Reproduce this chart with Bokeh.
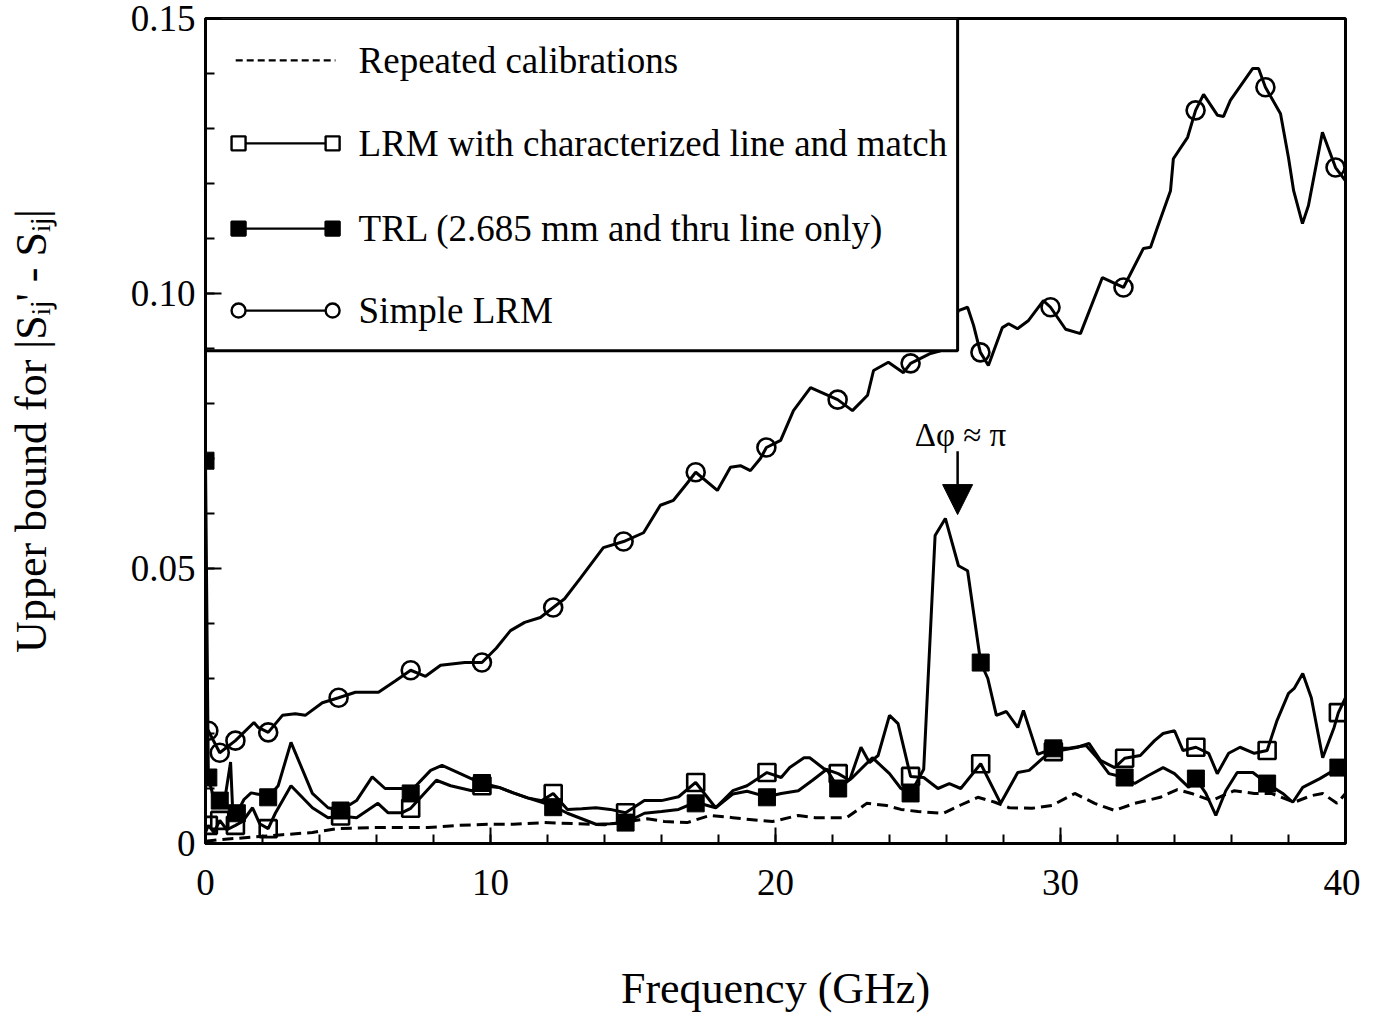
from bokeh.plotting import figure
from bokeh.models import Range1d, FixedTicker, Arrow, NormalHead, PrintfTickFormatter
from bokeh.embed import file_html
from bokeh.resources import INLINE
from bokeh.core.properties import value

FONT = "Liberation Serif"

# ---------------- data ----------------
# Simple LRM (open circles)
SIMPLE_X = [0, 0.1, 0.5, 1.05, 1.7, 1.85, 2.2, 2.7, 3.15, 3.5, 4.1, 4.67, 5.26, 6.07, 6.67, 7.2,
            7.72, 8.25, 9.1, 9.7, 10.2, 10.7, 11.2, 11.75, 12.2, 12.6, 13.15, 13.96, 14.67, 15.37,
            15.96, 16.42, 16.9, 17.2, 17.96, 18.42, 18.77, 19.12, 19.47, 19.68, 20.18, 20.63, 21.23,
            22.18, 22.7, 23.23, 23.44, 23.96, 24.49, 24.74, 25.44, 25.79, 26.42, 26.74, 26.95, 27.19,
            27.47, 27.96, 28.18, 28.49, 28.88, 29.4, 29.65, 30.18, 30.7, 31.47, 32.21, 32.91, 33.16,
            33.4, 33.86, 33.96, 34.46, 34.74, 35.02, 35.51, 35.72, 35.96, 36.74, 36.95, 37.19, 37.72,
            38.0, 38.18, 38.49, 38.7, 39.19, 39.65, 40.0]
SIMPLE_Y = [0.0209, 0.0205, 0.0165, 0.0187, 0.0220, 0.0211, 0.0202, 0.0233, 0.0236, 0.0233, 0.0256,
            0.0265, 0.0275, 0.0275, 0.0296, 0.0315, 0.0304, 0.0324, 0.0329, 0.0329, 0.0355, 0.0387,
            0.0402, 0.0411, 0.0429, 0.0445, 0.0482, 0.0538, 0.0549, 0.0565, 0.0615, 0.0624, 0.0655,
            0.0675, 0.0642, 0.0684, 0.0687, 0.0678, 0.0700, 0.0720, 0.0733, 0.0787, 0.0829, 0.0807,
            0.0787, 0.0815, 0.0860, 0.0875, 0.0856, 0.0873, 0.0891, 0.0896, 0.0969, 0.0975, 0.0942,
            0.0893, 0.0869, 0.0938, 0.0945, 0.0936, 0.0951, 0.0987, 0.0975, 0.0935, 0.0927, 0.1029,
            0.1011, 0.1082, 0.1084, 0.1120, 0.1187, 0.1245, 0.1284, 0.1333, 0.1362, 0.1324, 0.1322,
            0.1351, 0.1409, 0.1409, 0.1375, 0.1327, 0.1247, 0.1187, 0.1127, 0.1160, 0.1293, 0.1229,
            0.1205]
SIMPLE_MX = [0.1, 0.5, 1.05, 2.2, 4.67, 7.2, 9.7, 12.2, 14.67, 17.2, 19.68, 22.18, 24.74, 27.19,
             29.65, 32.21, 34.74, 37.19, 39.65]
SIMPLE_MY = [0.0205, 0.0165, 0.0187, 0.0202, 0.0265, 0.0315, 0.0329, 0.0429, 0.0549, 0.0675, 0.0720,
             0.0807, 0.0873, 0.0893, 0.0975, 0.1011, 0.1333, 0.1375, 0.1229]

# LRM with characterized line and match (open squares)
LRM_X = [0, 0.1, 0.3, 0.5, 0.75, 1.05, 1.3, 1.65, 1.9, 2.2, 2.45, 3.0, 3.75, 4.3, 4.74, 5.3, 6.05,
         6.4, 6.9, 7.2, 8.1, 8.6, 9.35, 9.7, 10.3, 10.8, 11.3, 11.8, 12.2, 12.7, 13.2, 13.7, 14.2,
         14.74, 15.4, 16.0, 16.6, 17.2, 17.9, 18.5, 19.0, 19.7, 20.2, 20.5, 21.0, 21.2, 21.7, 22.2,
         22.6, 23.0, 23.3, 23.6, 24.0, 24.3, 24.74, 25.2, 25.7, 26.1, 26.5, 27.2, 27.9, 28.5, 28.9,
         29.4, 29.75, 30.6, 31.0, 31.4, 31.9, 32.25, 32.8, 33.3, 33.6, 34.0, 34.3, 34.75, 35.2, 35.5,
         35.9, 36.3, 36.8, 37.25, 37.6, 38.0, 38.2, 38.5, 38.8, 39.2, 39.6, 39.75, 40.0]
LRM_Y = [0.0020, 0.0033, 0.0020, 0.0042, 0.0025, 0.0033, 0.0040, 0.0065, 0.0036, 0.0027, 0.0055,
         0.0105, 0.0065, 0.0047, 0.0050, 0.0047, 0.0073, 0.0056, 0.0056, 0.0064, 0.0115, 0.0105,
         0.0096, 0.0105, 0.0102, 0.0092, 0.0083, 0.0078, 0.0091, 0.0062, 0.0063, 0.0065, 0.0062,
         0.0056, 0.0078, 0.0078, 0.0085, 0.0111, 0.0065, 0.0096, 0.0105, 0.0129, 0.0120, 0.0138,
         0.0156, 0.0156, 0.0136, 0.0127, 0.0115, 0.0175, 0.0147, 0.0160, 0.0233, 0.0218, 0.0122,
         0.0120, 0.0100, 0.0109, 0.0100, 0.0145, 0.0073, 0.0129, 0.0133, 0.0156, 0.0167, 0.0175,
         0.0182, 0.0151, 0.0138, 0.0155, 0.0160, 0.0187, 0.0200, 0.0205, 0.0169, 0.0175, 0.0164,
         0.0127, 0.0164, 0.0175, 0.0164, 0.0169, 0.0224, 0.0273, 0.0282, 0.0309, 0.0265, 0.0156,
         0.0211, 0.0238, 0.0265]
LRM_MX = [0.1, 0.5, 1.05, 2.2, 4.74, 7.2, 9.7, 12.2, 14.74, 17.2, 19.7, 22.2, 24.74, 27.2, 29.75,
          32.25, 34.75, 37.25, 39.75]
LRM_MY = [0.0033, 0.0042, 0.0033, 0.0027, 0.0050, 0.0064, 0.0105, 0.0091, 0.0056, 0.0111, 0.0129,
          0.0127, 0.0122, 0.0145, 0.0167, 0.0155, 0.0175, 0.0169, 0.0238]

# TRL (2.685 mm and thru line only) (filled squares)
TRL_X = [0, 0.1, 0.3, 0.5, 0.7, 0.88, 0.95, 1.1, 1.35, 1.6, 1.9, 2.2, 2.55, 3.0, 3.75, 4.3, 4.74,
         5.3, 5.85, 6.3, 6.9, 7.2, 7.9, 8.3, 8.9, 9.4, 9.7, 10.3, 10.8, 11.3, 11.8, 12.2, 12.7, 13.2,
         13.7, 14.2, 14.74, 15.4, 16.0, 16.6, 17.2, 17.9, 18.5, 19.0, 19.7, 20.2, 20.8, 21.3, 21.8,
         22.2, 22.7, 23.4, 24.0, 24.4, 24.74, 25.2, 25.6, 25.96, 26.42, 26.74, 27.2, 27.45, 27.75,
         28.1, 28.5, 28.7, 29.2, 29.75, 30.3, 30.9, 31.3, 31.7, 32.25, 32.6, 33.1, 33.6, 34.0, 34.5,
         34.75, 35.1, 35.45, 35.8, 36.2, 36.75, 37.25, 37.8, 38.15, 38.5, 39.1, 39.75, 40.0]
TRL_Y = [0.0696, 0.0120, 0.0080, 0.0078, 0.0088, 0.0148, 0.0065, 0.0055, 0.0080, 0.0092, 0.0089,
         0.0084, 0.0105, 0.0184, 0.0091, 0.0065, 0.0060, 0.0078, 0.0121, 0.0100, 0.0100, 0.0095,
         0.0133, 0.0142, 0.0128, 0.0116, 0.0110, 0.0102, 0.0092, 0.0083, 0.0075, 0.0068, 0.0055,
         0.0045, 0.0035, 0.0036, 0.0038, 0.0055, 0.0058, 0.0062, 0.0075, 0.0065, 0.0090, 0.0095,
         0.0085, 0.0091, 0.0096, 0.0115, 0.0135, 0.0100, 0.0120, 0.0156, 0.0127, 0.0100, 0.0091,
         0.0135, 0.0560, 0.0591, 0.0505, 0.0496, 0.0329, 0.0300, 0.0233, 0.0240, 0.0211, 0.0242,
         0.0162, 0.0173, 0.0173, 0.0178, 0.0155, 0.0127, 0.0120, 0.0109, 0.0124, 0.0138, 0.0127,
         0.0102, 0.0118, 0.0091, 0.0051, 0.0096, 0.0129, 0.0129, 0.0109, 0.0091, 0.0075, 0.0102,
         0.0118, 0.0138, 0.0145]
TRL_MX = [0, 0.1, 0.5, 1.1, 2.2, 4.74, 7.2, 9.7, 12.2, 14.74, 17.2, 19.7, 22.2, 24.74, 27.2, 29.75,
          32.25, 34.75, 37.25, 39.75]
TRL_MY = [0.0696, 0.0120, 0.0078, 0.0055, 0.0084, 0.0060, 0.0091, 0.0110, 0.0066, 0.0038, 0.0073,
          0.0084, 0.0100, 0.0091, 0.0329, 0.0173, 0.0120, 0.0118, 0.0109, 0.0138]

# Repeated calibrations (dashed)
REP_X = [0, 0.5, 1.0, 2.0, 2.7, 3.75, 4.6, 5.9, 6.9, 7.8, 8.9, 9.9, 10.8, 11.9, 13.1, 14.0, 15.5,
         16.1, 16.9, 17.7, 18.5, 19.4, 19.9, 20.8, 21.4, 22.5, 23.2, 23.9, 24.4, 25.0, 25.9, 26.5,
         27.1, 27.7, 28.2, 29.0, 29.7, 30.5, 31.2, 31.9, 32.6, 33.5, 34.1, 34.6, 35.3, 36.1, 36.8,
         37.4, 38.2, 38.8, 39.2, 39.7, 40.0]
REP_Y = [0.0004, 0.0007, 0.0009, 0.0013, 0.0016, 0.0020, 0.0027, 0.0029, 0.0029, 0.0029, 0.0033,
         0.0035, 0.0035, 0.0038, 0.0036, 0.0034, 0.0045, 0.0040, 0.0038, 0.0051, 0.0047, 0.0042,
         0.0040, 0.0051, 0.0047, 0.0047, 0.0073, 0.0069, 0.0062, 0.0058, 0.0055, 0.0070, 0.0084,
         0.0075, 0.0065, 0.0064, 0.0069, 0.0091, 0.0073, 0.0060, 0.0073, 0.0084, 0.0098, 0.0091,
         0.0078, 0.0096, 0.0091, 0.0091, 0.0075, 0.0087, 0.0091, 0.0073, 0.0091]

LEGEND_LABELS = ["Repeated calibrations", "LRM with characterized line and match",
                 "TRL (2.685 mm and thru line only)", "Simple LRM"]
X_TICKS = [0, 10, 20, 30, 40]
Y_TICKS = [0, 0.05, 0.10, 0.15]
ANNOT_TEXT = "Δφ ≈ π"

# ---------------- figure ----------------
p = figure(width=1360, height=1017, x_range=Range1d(0, 40), y_range=Range1d(0, 0.15),
           output_backend="svg", toolbar_location=None,
           min_border_left=205, min_border_right=15, min_border_top=18, min_border_bottom=174)
p.background_fill_color = "white"
p.border_fill_color = "white"
p.outline_line_color = "black"
p.outline_line_width = 3
p.grid.visible = False

p.xaxis.ticker = FixedTicker(ticks=X_TICKS, minor_ticks=list(range(0, 41, 2)))
p.yaxis.ticker = FixedTicker(ticks=Y_TICKS, minor_ticks=[i / 100 for i in range(16)])
p.yaxis.formatter = PrintfTickFormatter(format="%.2f")
p.yaxis.major_label_overrides = {0: "0"}

for ax in (p.xaxis[0], p.yaxis[0]):
    ax.axis_line_width = 3
    ax.axis_line_color = "black"
    ax.major_tick_in = 16
    ax.major_tick_out = 0
    ax.minor_tick_in = 9
    ax.minor_tick_out = 0
    ax.major_tick_line_width = 2
    ax.minor_tick_line_width = 2
    ax.major_label_text_font = FONT
    ax.major_label_text_font_size = "37px"
    ax.major_label_text_color = "black"
    ax.axis_label_text_font = FONT
    ax.axis_label_text_font_size = "44px"
    ax.axis_label_text_font_style = "normal"
    ax.axis_label_text_color = "black"

p.xaxis.axis_label = "Frequency (GHz)"
p.xaxis.major_label_standoff = 26
p.xaxis.axis_label_standoff = 66
p.yaxis.axis_label = "Upper bound for |Sᵢⱼ' - Sᵢⱼ|"
p.yaxis.major_label_standoff = 10
p.yaxis.axis_label_standoff = 72

LW = 3
# data lines
p.line(REP_X, REP_Y, line_color="black", line_width=LW, line_dash="11 6")
p.line(LRM_X, LRM_Y, line_color="black", line_width=LW)
p.line(TRL_X, TRL_Y, line_color="black", line_width=LW)
p.line(SIMPLE_X, SIMPLE_Y, line_color="black", line_width=LW)
p.scatter(LRM_MX, LRM_MY, marker="square", size=17, fill_color=None, line_color="black", line_width=2.6)
p.scatter(TRL_MX, TRL_MY, marker="square", size=17, fill_color="black", line_color="black", line_width=1)
p.scatter(SIMPLE_MX, SIMPLE_MY, marker="circle", size=18, fill_color=None, line_color="black", line_width=2.6)

# annotation arrow + text
p.add_layout(Arrow(end=NormalHead(size=30, fill_color="black", line_color="black"),
                   x_start=26.39, y_start=0.0713, x_end=26.39, y_end=0.0598,
                   line_color="black", line_width=2.5))
p.text(x=[26.49], y=[0.0742], text=[ANNOT_TEXT], text_font=value(FONT), text_font_size="33px",
       text_align="center", text_baseline="middle", text_color="black")

# ---------------- legend box (drawn in data space, on top of curves) ----------------
LEG_L, LEG_R, LEG_T, LEG_B = 0, 26.39, 0.15, 0.0896
p.quad(left=[LEG_L], right=[LEG_R], top=[LEG_T], bottom=[LEG_B], fill_color="white",
       line_color="black", line_width=3)
ROWS = [0.1424, 0.1273, 0.1118, 0.0969]
S0, S1, TX = 1.16, 4.46, 5.37
p.line([S0 - 0.1, S1 + 0.1], [ROWS[0], ROWS[0]], line_color="black", line_width=2.2, line_dash="7 4")
for r, mk, fc in ((ROWS[1], "square", None), (ROWS[2], "square", "black"), (ROWS[3], "circle", None)):
    p.line([S0, S1], [r, r], line_color="black", line_width=2.2)
    p.scatter([S0, S1], [r, r], marker=mk, size=14,
              fill_color=fc if fc else "white", line_color="black", line_width=2.4)
p.text(x=[TX] * 4, y=ROWS, text=LEGEND_LABELS, text_font=value(FONT), text_font_size="37px",
       text_align="left", text_baseline="middle", text_color="black")

open("out.html", "w").write(file_html(p, INLINE))
